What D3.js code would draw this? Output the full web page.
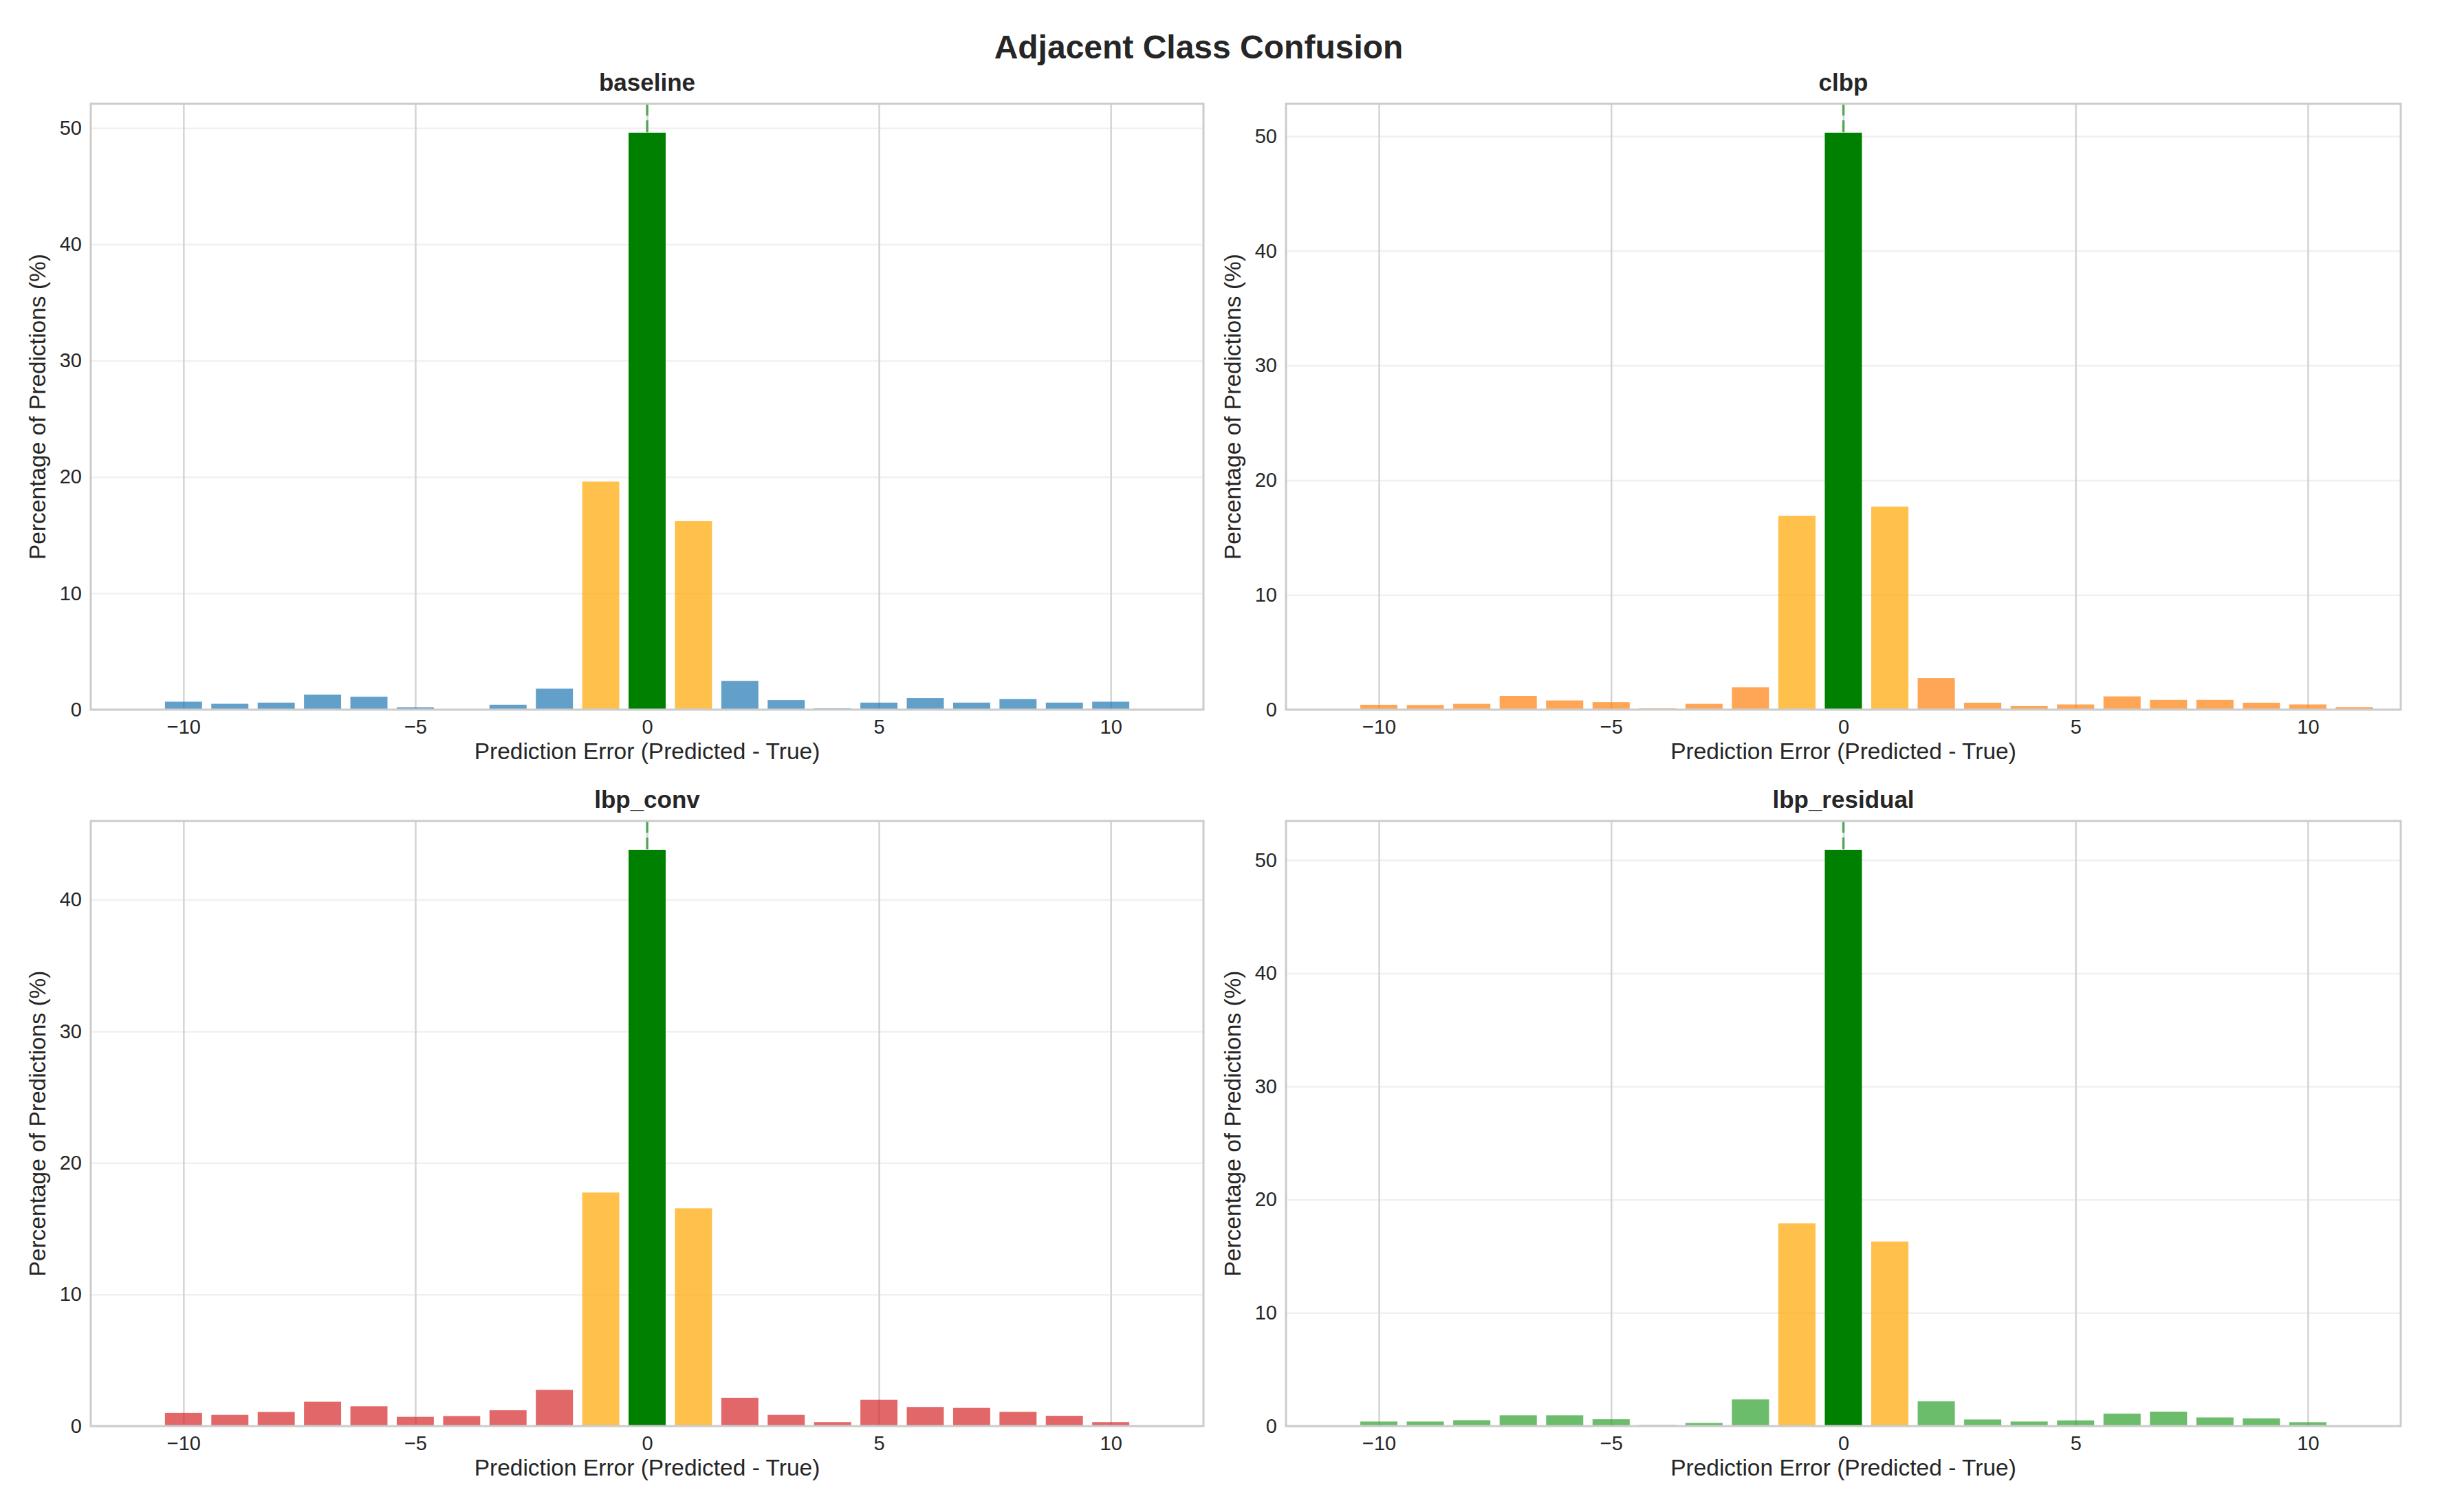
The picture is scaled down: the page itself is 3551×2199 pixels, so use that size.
<!DOCTYPE html>
<html>
<head>
<meta charset="utf-8">
<script src="https://cdn.jsdelivr.net/npm/d3@7/dist/d3.min.js"></script>
<style>
  body { margin: 0; background: #fff; }
  text { font-family: "Liberation Sans", Arial, sans-serif; fill: #262626; }
</style>
</head>
<body>
<div id="chart"></div>
<script>
// prediction error (predicted - true) for each bar
var errors = [-10, -9, -8, -7, -6, -5, -4, -3, -2, -1, 0, 1, 2, 3, 4, 5, 6, 7, 8, 9, 10, 11];

var baselineValues = [0.68, 0.5, 0.6, 1.28, 1.1, 0.2, 0, 0.42, 1.8, 19.6, 49.6, 16.2, 2.47, 0.82, 0.1, 0.6, 1.0, 0.6, 0.9, 0.6, 0.68, 0];
var clbpValues = [0.42, 0.4, 0.5, 1.2, 0.8, 0.65, 0.1, 0.5, 1.95, 16.9, 50.3, 17.7, 2.75, 0.6, 0.3, 0.45, 1.15, 0.85, 0.85, 0.6, 0.45, 0.22];
var lbpConvValues = [1.0, 0.85, 1.07, 1.85, 1.5, 0.7, 0.76, 1.2, 2.75, 17.75, 43.8, 16.55, 2.15, 0.85, 0.3, 2.0, 1.45, 1.38, 1.08, 0.78, 0.3, 0];
var lbpResidualValues = [0.4, 0.4, 0.52, 0.95, 0.95, 0.6, 0.1, 0.27, 2.35, 17.9, 50.9, 16.3, 2.18, 0.58, 0.4, 0.5, 1.1, 1.27, 0.76, 0.68, 0.34, 0];

var modelNames = ['baseline', 'clbp', 'lbp_conv', 'lbp_residual'];
var modelColors = ['#1f77b4', '#ff7f0e', '#d62728', '#2ca02c'];
var xTicks = [-10, -5, 0, 5, 10];
var yTicks = [0, 10, 20, 30, 40, 50];

var seriesValues = [baselineValues, clbpValues, lbpConvValues, lbpResidualValues];

var W = 3551, H = 2199;

// axes boxes (left, top, right, bottom) in the 2x2 grid
var cols = [[132, 1750], [1870, 3491]];
var rows = [[151, 1032], [1194, 2074]];

var svg = d3.select('#chart')
    .append('svg')
        .attr('width', W)
        .attr('height', H)
        .style('background', '#fff');

svg.append('text')
    .attr('x', 1743)
    .attr('y', 85)
    .attr('text-anchor', 'middle')
    .style('font-size', '48px')
    .style('font-weight', 'bold')
    .text('Adjacent Class Confusion');

modelNames.forEach(function(name, k) {
    var left = cols[k % 2][0], right = cols[k % 2][1];
    var top = rows[Math.floor(k / 2)][0], bottom = rows[Math.floor(k / 2)][1];
    var values = seriesValues[k];

    var xScale = d3.scaleLinear()
        .domain([-12, 12])
        .range([left, right]);

    var yScale = d3.scaleLinear()
        .domain([0, d3.max(values) * 1.05])
        .range([bottom, top]);

    var g = svg.append('g');

    // horizontal grid, very faint
    var hGrid = g.append('g')
        .attr('transform', 'translate(' + left + ',0)')
        .call(d3.axisLeft(yScale).tickValues(yTicks.filter(function(t) { return yScale(t) >= top; }))
            .tickSize(-(right - left)).tickFormat(''));
    hGrid.select('.domain').remove();
    hGrid.selectAll('line').style('stroke', '#cccccc').style('stroke-opacity', 0.3).style('stroke-width', 2.5);

    // vertical grid
    var vGrid = g.append('g')
        .attr('transform', 'translate(0,' + bottom + ')')
        .call(d3.axisBottom(xScale).tickValues(xTicks).tickSize(-(bottom - top)).tickFormat(''));
    vGrid.select('.domain').remove();
    vGrid.selectAll('line').style('stroke', '#d4d4d4').style('stroke-width', 2.5);

    // dashed line at zero error
    g.append('line')
        .attr('x1', xScale(0)).attr('x2', xScale(0))
        .attr('y1', top).attr('y2', bottom)
        .style('stroke', 'green')
        .style('stroke-opacity', 0.6)
        .style('stroke-width', 3.5)
        .style('stroke-dasharray', '17,7');

    var barWidth = xScale(0.8) - xScale(0);

    g.selectAll('rect.bar').data(values)
        .enter().append('rect')
            .attr('class', 'bar')
            .attr('x', function(d, i) { return xScale(errors[i]) - barWidth / 2; })
            .attr('width', barWidth)
            .attr('y', function(d) { return yScale(d); })
            .attr('height', function(d) { return bottom - yScale(d); })
            .style('fill', function(d, i) {
                var e = errors[i];
                if (e === 0) return 'green';
                if (Math.abs(e) === 1) return 'orange';
                return modelColors[k];
            })
            .style('fill-opacity', function(d, i) { return errors[i] === 0 ? 1 : 0.7; });

    // frame
    g.append('rect')
        .attr('x', left).attr('y', top)
        .attr('width', right - left).attr('height', bottom - top)
        .style('fill', 'none')
        .style('stroke', '#cccccc')
        .style('stroke-width', 3);

    // tick labels
    var xAxis = g.append('g')
        .attr('transform', 'translate(0,' + bottom + ')')
        .call(d3.axisBottom(xScale).tickValues(xTicks).tickSize(0).tickPadding(14)
            .tickFormat(function(d) { return d < 0 ? '\u2212' + Math.abs(d) : d; }));
    xAxis.select('.domain').remove();
    xAxis.selectAll('text').style('font-size', '29px').style('font-family', '"Liberation Sans", Arial, sans-serif').attr('fill', '#262626');

    var yAxis = g.append('g')
        .attr('transform', 'translate(' + left + ',0)')
        .call(d3.axisLeft(yScale).tickValues(yTicks.filter(function(t) { return yScale(t) >= top; }))
            .tickSize(0).tickPadding(13));
    yAxis.select('.domain').remove();
    yAxis.selectAll('text').style('font-size', '29px').style('font-family', '"Liberation Sans", Arial, sans-serif').attr('fill', '#262626');

    // subplot title and axis labels
    g.append('text')
        .attr('x', (left + right) / 2)
        .attr('y', top - 19)
        .attr('text-anchor', 'middle')
        .style('font-size', '35px')
        .style('font-weight', 'bold')
        .text(name);

    g.append('text')
        .attr('x', (left + right) / 2)
        .attr('y', bottom + 72)
        .attr('text-anchor', 'middle')
        .style('font-size', '33.5px')
        .text('Prediction Error (Predicted - True)');

    g.append('text')
        .attr('transform', 'translate(' + (left - 78) + ',' + ((top + bottom) / 2) + ') rotate(-90)')
        .attr('dy', '0.35em')
        .attr('text-anchor', 'middle')
        .style('font-size', '33.5px')
        .text('Percentage of Predictions (%)');
});
</script>
</body>
</html>
